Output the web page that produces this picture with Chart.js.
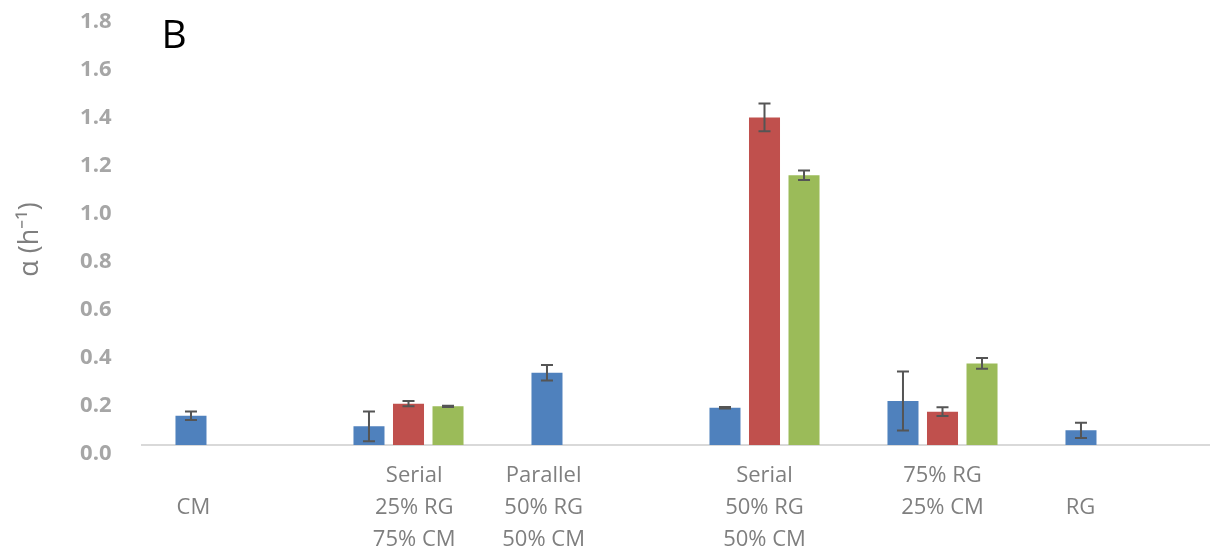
<!DOCTYPE html>
<html>
<head>
<meta charset="utf-8">
<title>α (h⁻¹) by feeding strategy</title>
<script src="https://cdn.jsdelivr.net/npm/chart.js@4/dist/chart.umd.min.js"></script>
<style>
  html, body { margin: 0; padding: 0; background: #ffffff; }
  canvas { display: block; }
</style>
</head>
<body>
<canvas id="chart" width="1211" height="552"></canvas>
<script>
// Feeding strategies (x categories); non-breaking spaces nudge a few labels sideways
const NB = '\u00A0';
const pad = n => NB.repeat(n);
const categories = [
  ['', 'CM' + pad(13)],
  [pad(2) + 'Serial', pad(2) + '25% RG', pad(2) + '75% CM'],
  ['Parallel' + pad(15), '50% RG' + pad(15), '50% CM' + pad(15)],
  ['Serial', '50% RG', '50% CM'],
  ['75% RG', '25% CM'],
  ['', 'RG' + pad(14)]
];

// α values (h⁻¹) and their error half-widths, one array per series
const blueValues  = [0.122, 0.078, 0.301, 0.155, 0.183, 0.061];
const blueErrors  = [0.018, 0.062, 0.032, 0.003, 0.123, 0.032];
const redValues   = [null, 0.172, null, 1.365, 0.139, null];
const redErrors   = [null, 0.011, null, 0.058, 0.018, null];
const greenValues = [null, 0.161, null, 1.124, 0.340, null];
const greenErrors = [null, 0.003, null, 0.020, 0.022, null];

// Value axis ticks
const yTicks = [0, 0.2, 0.4, 0.6, 0.8, 1.0, 1.2, 1.4, 1.6, 1.8];

const errorSets = [blueErrors, redErrors, greenErrors];

// Draws a capped error bar over every bar
const errorBars = {
  id: 'errorBars',
  afterDatasetsDraw(chart) {
    const ctx = chart.ctx;
    const y = chart.scales.y;
    ctx.save();
    ctx.strokeStyle = '#555555';
    ctx.lineWidth = 2;
    chart.data.datasets.forEach((ds, di) => {
      const meta = chart.getDatasetMeta(di);
      const errs = errorSets[di];
      meta.data.forEach((bar, i) => {
        const v = ds.data[i];
        const e = errs[i];
        if (v == null || e == null) return;
        const x = bar.x;
        const top = y.getPixelForValue(v + e);
        const bot = y.getPixelForValue(v - e);
        const cap = 6;
        ctx.beginPath();
        ctx.moveTo(x, top); ctx.lineTo(x, bot);
        ctx.moveTo(x - cap, top); ctx.lineTo(x + cap, top);
        ctx.moveTo(x - cap, bot); ctx.lineTo(x + cap, bot);
        ctx.stroke();
      });
    });
    ctx.restore();
  }
};

// Panel letter in the top-left corner of the plot
const panelLetter = {
  id: 'panelLetter',
  afterDraw(chart) {
    const ctx = chart.ctx;
    ctx.save();
    ctx.fillStyle = '#000000';
    ctx.font = '39px "Open Sans"';
    ctx.textAlign = 'left';
    ctx.textBaseline = 'alphabetic';
    ctx.fillText('B', chart.chartArea.left + 20, 48);
    ctx.restore();
  }
};

new Chart(document.getElementById('chart'), {
  type: 'bar',
  data: {
    labels: categories,
    datasets: [
      { data: blueValues,  backgroundColor: '#4f81bd' },
      { data: redValues,   backgroundColor: '#c0504d' },
      { data: greenValues, backgroundColor: '#9bbb59' }
    ]
  },
  options: {
    responsive: false,
    devicePixelRatio: 1,
    animation: false,
    categoryPercentage: 0.666,
    barPercentage: 0.785,
    layout: { autoPadding: false, padding: { left: 0, right: 1.5, top: 13, bottom: 0 } },
    plugins: {
      legend: { display: false },
      tooltip: { enabled: false }
    },
    scales: {
      x: {
        grid: { display: false },
        border: { display: true, color: '#d9d9d9', width: 2 },
        ticks: {
          color: '#7f7f7f',
          font: { family: '"Open Sans"', size: 22, lineHeight: 1.45 },
          padding: 7,
          maxRotation: 0,
          autoSkip: false
        },
        afterFit(s) {
          s.height = 107;
          s.paddingLeft = 0;
          s.paddingRight = 0;
        }
      },
      y: {
        min: 0,
        max: 1.8,
        grid: { display: false },
        border: { display: false },
        afterBuildTicks(s) { s.ticks = yTicks.map(v => ({ value: v })); },
        ticks: {
          color: '#a6a6a6',
          font: { family: '"Open Sans"', size: 22, weight: 'bold' },
          padding: 22,
          labelOffset: 9,
          callback: v => v.toFixed(1)
        },
        title: {
          display: true,
          text: 'α (h⁻¹)' + pad(3),
          color: '#7f7f7f',
          font: { family: '"Open Sans"', size: 27 },
          padding: { top: 14, bottom: 0 }
        },
        afterFit(s) {
          s.width = 141.5;
          s.paddingTop = 0;
          s.paddingBottom = 0;
        }
      }
    }
  },
  plugins: [errorBars, panelLetter]
});
</script>
</body>
</html>
